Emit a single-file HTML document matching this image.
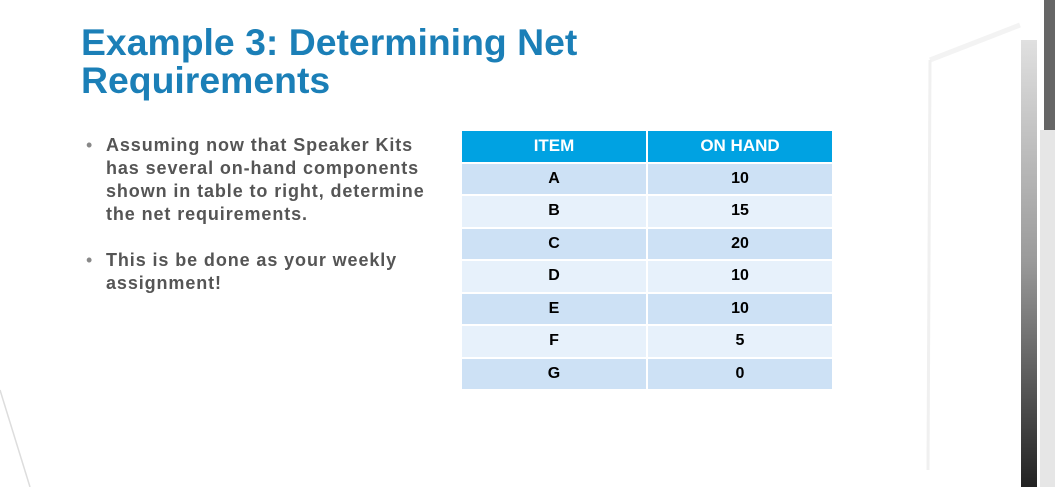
<!DOCTYPE html>
<html><head><style>
body{margin:0;width:1055px;height:487px;overflow:hidden;background:#fff;font-family:"Liberation Sans",sans-serif;position:relative}
.t{position:absolute;left:81px;top:24px;color:#1b7fb7;font-weight:bold;font-size:37px;line-height:38px;white-space:nowrap}
.b{position:absolute;left:86px;color:#555;font-size:18px;line-height:23px;font-weight:bold;white-space:nowrap;letter-spacing:0.9px}
.b span{position:absolute;left:0;top:0;font-weight:normal;color:#888}
.b div{margin-left:20px}
table{position:absolute;left:460px;top:129px;border-collapse:collapse;font-weight:bold;font-size:16px}
td{width:184px;height:30.5px;text-align:center;border:2px solid #fff;padding:0}
tr.h td{background:#00a2e2;color:#fff;font-size:17px}
tr.o td{background:#cde1f5}
tr.e td{background:#e7f1fb}
</style></head><body>
<svg width="1055" height="487" style="position:absolute;left:0;top:0">
<defs><linearGradient id="g" x1="0" y1="0" x2="0" y2="1"><stop offset="0" stop-color="#e0e0e0"/><stop offset="0.5" stop-color="#999"/><stop offset="1" stop-color="#222"/></linearGradient></defs>
<line x1="930" y1="60" x2="1020" y2="25" stroke="#f3f3f3" stroke-width="5"/>
<line x1="930" y1="60" x2="928" y2="470" stroke="#f0f0f0" stroke-width="3"/>
<rect x="1021" y="40" width="16" height="447" fill="url(#g)"/>
<rect x="1044" y="0" width="11" height="130" fill="#666"/>
<rect x="1040" y="130" width="15" height="357" fill="#e6e6e6"/>
<line x1="0" y1="390" x2="30" y2="487" stroke="#ddd" stroke-width="1.5"/>
</svg>
<div class="t" style="transform:scaleX(1.01);transform-origin:left">Example 3: Determining Net<br>Requirements</div>
<div class="b" style="top:134px"><span>•</span><div>Assuming now that Speaker Kits<br>has several on-hand components<br>shown in table to right, determine<br>the net requirements.</div></div>
<div class="b" style="top:249px"><span>•</span><div>This is be done as your weekly<br>assignment!</div></div>
<table>
<tr class="h"><td>ITEM</td><td>ON HAND</td></tr>
<tr class="o"><td>A</td><td>10</td></tr>
<tr class="e"><td>B</td><td>15</td></tr>
<tr class="o"><td>C</td><td>20</td></tr>
<tr class="e"><td>D</td><td>10</td></tr>
<tr class="o"><td>E</td><td>10</td></tr>
<tr class="e"><td>F</td><td>5</td></tr>
<tr class="o"><td>G</td><td>0</td></tr>
</table>
</body></html>
